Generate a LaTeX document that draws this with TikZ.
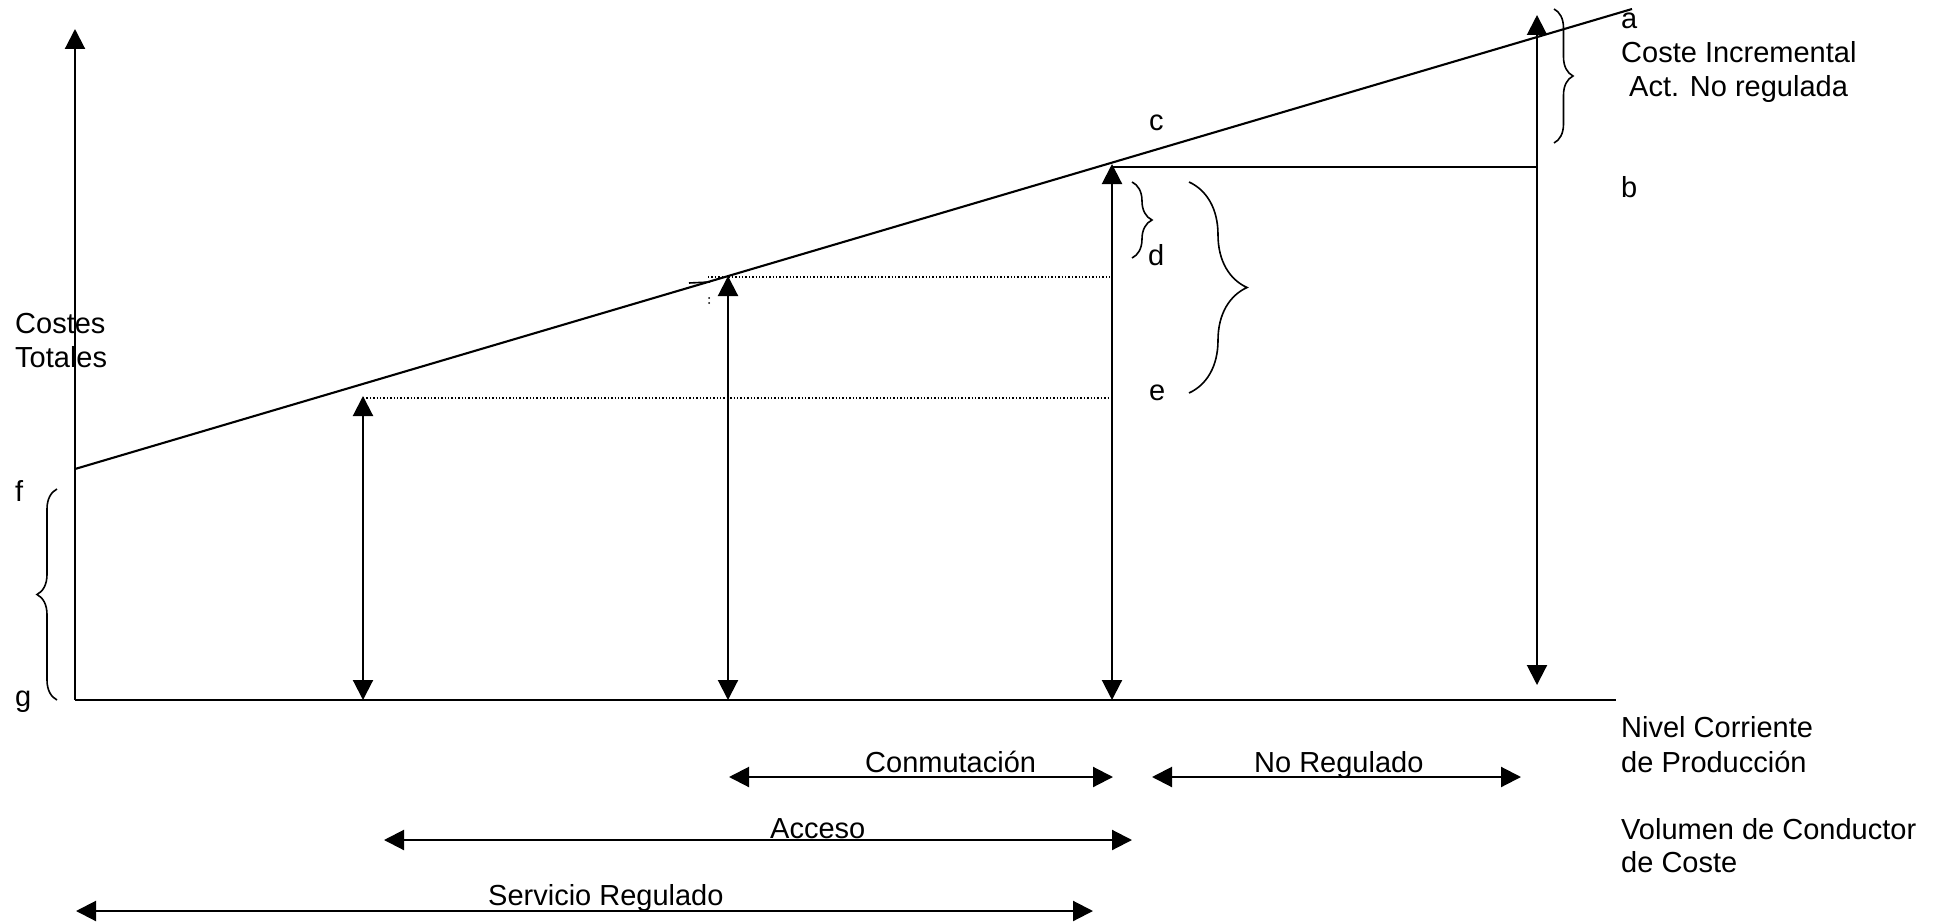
\documentclass[tikz,border=0pt]{standalone}
\usepackage{fontspec}
\setmainfont{Liberation Sans}
\usetikzlibrary{arrows.meta,decorations.pathreplacing}
\begin{document}
\begin{tikzpicture}[x=1pt,y=-1pt,
  ln/.style={line width=2.1pt},
  oneway/.style={ln,-{Triangle[length=20pt,width=20pt]}},
  twoway/.style={ln,{Triangle[length=20pt,width=20pt]}-{Triangle[length=20pt,width=20pt]}},
  dots/.style={line width=1.6pt,dash pattern=on 1.4pt off 2pt},
  brc/.style={line width=1.6pt,decorate,decoration={brace,amplitude=#1}},
  lbl/.style={anchor=base west,inner sep=0pt,font=\fontsize{29}{33}\selectfont}]
\useasboundingbox (0,0) rectangle (1946,923);
% axes
\coordinate (O) at (75,700);
\coordinate (Ytop) at (75,29);
\coordinate (Xend) at (1616,700);
\draw[oneway] (O) -- (Ytop);
\draw[ln] (O) -- (Xend);
% cost line
\coordinate (L0) at (75,469);
\coordinate (L1) at (1632,9);
\draw[ln] (L0) -- (L1);
% vertical arrows
\coordinate (A1b) at (363,700); \coordinate (A1t) at (363,396);
\coordinate (A2b) at (728,700); \coordinate (A2t) at (728,276);
\coordinate (A3b) at (1112,700); \coordinate (A3t) at (1112,164);
\coordinate (A4t) at (1537,15); \coordinate (A4b) at (1537,685);
\draw[twoway] (A1b) -- (A1t);
\draw[twoway] (A2b) -- (A2t);
\draw[twoway] (A3b) -- (A3t);
\draw[twoway] (A4t) -- (A4b);
% horizontal solid from c to b
\coordinate (H0) at (1112,167); \coordinate (H1) at (1537,167);
\draw[ln] (H0) -- (H1);
% dotted lines
\coordinate (D1a) at (708,277); \coordinate (D1b) at (1110,277);
\coordinate (D2a) at (363,398); \coordinate (D2b) at (1110,398);
\draw[dots] (D1a) -- (D1b);
\draw[dots] (D2a) -- (D2b);
% small artefacts
\coordinate (S0) at (689,283); \coordinate (S1) at (710,282);
\draw[line width=1.6pt] (S0) -- (S1);
\fill (709,298) circle (1pt) (709,303) circle (1pt);
% braces
\coordinate (B1t) at (1554,9); \coordinate (B1b) at (1554,143);
\draw[brc=19pt] (B1t) -- (B1b);
\coordinate (B2t) at (1132,182); \coordinate (B2b) at (1132,258);
\draw[brc=20pt] (B2t) -- (B2b);
\coordinate (B3t) at (1189,182); \coordinate (B3b) at (1189,393);
\draw[brc=58pt] (B3t) -- (B3b);
\coordinate (B4b) at (57,700); \coordinate (B4t) at (57,489);
\draw[brc=20pt] (B4b) -- (B4t);
% bottom range arrows
\coordinate (C0) at (729,777); \coordinate (C1) at (1113,777);
\draw[twoway] (C0) -- (C1);
\coordinate (N0) at (1152,777); \coordinate (N1) at (1521,777);
\draw[twoway] (N0) -- (N1);
\coordinate (Ac0) at (384,840); \coordinate (Ac1) at (1132,840);
\draw[twoway] (Ac0) -- (Ac1);
\coordinate (Sv0) at (76,911); \coordinate (Sv1) at (1093,911);
\draw[twoway] (Sv0) -- (Sv1);
% labels
\node[lbl] (la) at (1621,29) {a};
\node[lbl] (lci) at (1621,63) {Coste Incremental};
\node[lbl] (lact) at (1629,97) {Act. No regulada};
\node[lbl] (lc) at (1149,131) {c};
\node[lbl] (lb) at (1621,197) {b};
\node[lbl] (ld) at (1148,265) {d};
\node[lbl] (le) at (1149,400) {e};
\node[lbl] (lct1) at (15,333) {Costes};
\node[lbl] (lct2) at (15,367) {Totales};
\node[lbl] (lf) at (15,501) {f};
\node[lbl] (lg) at (15,706) {g};
\node[lbl] (lnc1) at (1621,737) {Nivel Corriente};
\node[lbl] (lnc2) at (1621,772) {de Producción};
\node[lbl] (lvc1) at (1621,839) {Volumen de Conductor};
\node[lbl] (lvc2) at (1621,872) {de Coste};
\node[lbl] (lcon) at (865,772) {Conmutación};
\node[lbl] (lnr) at (1254,772) {No Regulado};
\node[lbl] (lacc) at (770,838) {Acceso};
\node[lbl] (lsr) at (488,905) {Servicio Regulado};
\end{tikzpicture}
\end{document}
